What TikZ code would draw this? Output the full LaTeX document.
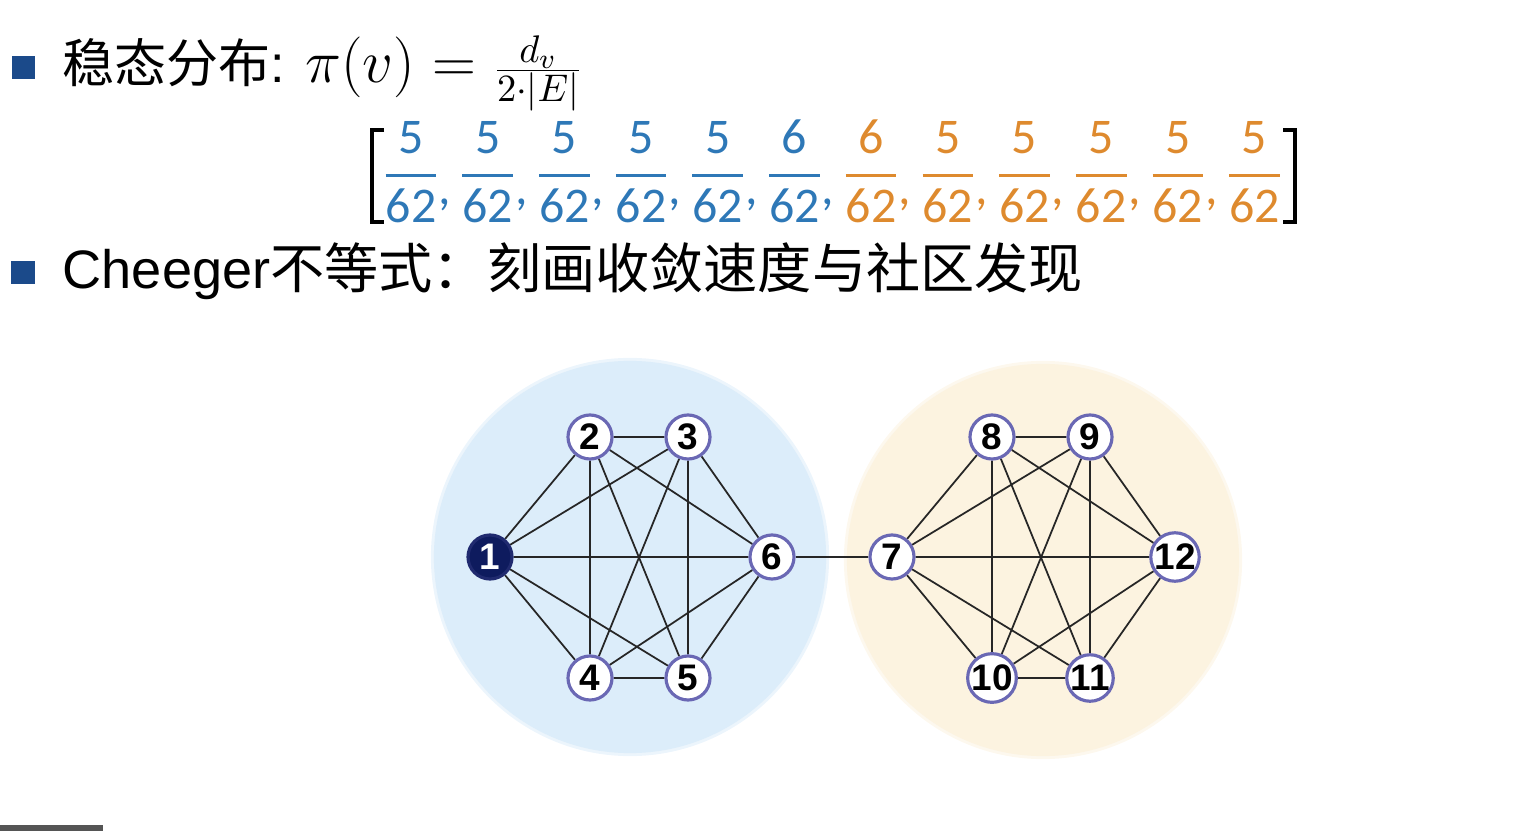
\documentclass[tikz,border=0pt]{standalone}
\usepackage[no-math]{fontspec}
\setmainfont{Liberation Sans}
\newfontfamily\cjk{Noto Sans CJK SC}
\newfontfamily\carl{Carlito}
\usetikzlibrary{backgrounds}
\definecolor{bulletBlue}{HTML}{1B4A8A}
\definecolor{fracBlue}{HTML}{2E78B7}
\definecolor{fracOrange}{HTML}{DE8A2E}
\definecolor{blobBlue}{HTML}{DCEDFA}
\definecolor{blobYellow}{HTML}{FCF3E0}
\definecolor{ringPurple}{HTML}{6A68B4}
\definecolor{hubNavy}{HTML}{0E1B5E}
\definecolor{linkGrey}{HTML}{262626}
\definecolor{barGrey}{HTML}{555555}
\tikzset{
    bulletsq/.style={rectangle, fill=bulletBlue, minimum size=0.23cm, inner sep=0pt},
    vertex/.style={circle, draw=ringPurple, line width=0.9pt, fill=white, minimum size=0.44cm, inner sep=0pt, font=\fontsize{10.5}{12}\selectfont\bfseries},
    hub/.style={vertex, fill=hubNavy, draw=hubNavy!80!ringPurple, text=white},
    link/.style={draw=linkGrey, line width=0.5pt},
    blob/.style={circle, inner sep=0pt, minimum size=3.92cm},
    halo/.style={circle, inner sep=0pt, minimum size=3.98cm},
    vecbracket/.style={draw=black, line width=1.1pt}
}
% one entry of the stationary vector
\newcommand\statfrac[2]{{\color{#1}{\hbox{\carl #2}\above 0.8pt\hbox{\carl 62}}}}
\newcommand\vcomma[1]{\kern0.02cm\lower0.16cm\hbox{\color{#1}\carl ,}\kern0.116cm}
\begin{document}
\begin{tikzpicture}[x=0.01cm, y=-0.01cm]
    \useasboundingbox (0,0) rectangle (1531,831);

    % Stationary distribution
    \node[bulletsq] at (23.5,67.5) (bul1) {};
    \node[anchor=base west, inner sep=0pt, font=\fontsize{14.8}{18}\selectfont] at (62,83) (stat) {{\cjk 稳态分布}:\hskip0.2cm{\fontsize{16.5}{20}\selectfont$\pi(v)=\hbox{\fontsize{15.2}{18}\selectfont$\frac{d_v}{2\cdot|E|}$}$}};
    \node[anchor=base west, inner sep=0pt, font=\fontsize{14.2}{17}\selectfont] at (385,188) (vec) {\nulldelimiterspace=0pt$\displaystyle
        \statfrac{fracBlue}{5}\vcomma{fracBlue}\statfrac{fracBlue}{5}\vcomma{fracBlue}\statfrac{fracBlue}{5}\vcomma{fracBlue}
        \statfrac{fracBlue}{5}\vcomma{fracBlue}\statfrac{fracBlue}{5}\vcomma{fracBlue}\statfrac{fracBlue}{6}\vcomma{fracBlue}
        \statfrac{fracOrange}{6}\vcomma{fracOrange}\statfrac{fracOrange}{5}\vcomma{fracOrange}\statfrac{fracOrange}{5}\vcomma{fracOrange}
        \statfrac{fracOrange}{5}\vcomma{fracOrange}\statfrac{fracOrange}{5}\vcomma{fracOrange}\statfrac{fracOrange}{5}$};
    \draw[vecbracket] (384,130) -- (372,130) -- (372,222) -- (384,222);
    \draw[vecbracket] (1283,130) -- (1295,130) -- (1295,222) -- (1283,222);

    % Cheeger inequality
    \node[bulletsq] at (23,272.5) (bul2) {};
    \node[anchor=base west, inner sep=0pt, font=\fontsize{15.4}{18}\selectfont] at (62,289) (cheeger) {Cheeger{\cjk 不等式：刻画收敛速度与社区发现}};

    % Left community
    \node[hub] at (490,557) (v1) {1};
    \node[vertex] at (590,437) (v2) {2};
    \node[vertex] at (688,437) (v3) {3};
    \node[vertex] at (590,678) (v4) {4};
    \node[vertex] at (688,678) (v5) {5};
    \node[vertex] at (772,557) (v6) {6};

    % Right community
    \node[vertex] at (892,557) (v7) {7};
    \node[vertex] at (992,437) (v8) {8};
    \node[vertex] at (1090,437) (v9) {9};
    \node[vertex] at (992,678) (v10) {10};
    \node[vertex] at (1090,678) (v11) {11};
    \node[vertex] at (1175,557) (v12) {12};

    \begin{scope}[on background layer]
        \node[halo, fill=blobBlue!55] at (630,557) (haloL) {};
        \node[halo, fill=blobYellow!55] at (1043,560) (haloR) {};
        \node[blob, fill=blobBlue] at (630,557) (commL) {};
        \node[blob, fill=blobYellow] at (1043,560) (commR) {};
        % K6 on the left
        \draw[link] (v1) -- (v2) (v1) -- (v3) (v1) -- (v4) (v1) -- (v5) (v1) -- (v6);
        \draw[link] (v2) -- (v3) (v2) -- (v4) (v2) -- (v5) (v2) -- (v6);
        \draw[link] (v3) -- (v4) (v3) -- (v5) (v3) -- (v6);
        \draw[link] (v4) -- (v5) (v4) -- (v6) (v5) -- (v6);
        % bridge
        \draw[link] (v6) -- (v7);
        % K6 on the right
        \draw[link] (v7) -- (v8) (v7) -- (v9) (v7) -- (v10) (v7) -- (v11) (v7) -- (v12);
        \draw[link] (v8) -- (v9) (v8) -- (v10) (v8) -- (v11) (v8) -- (v12);
        \draw[link] (v9) -- (v10) (v9) -- (v11) (v9) -- (v12);
        \draw[link] (v10) -- (v11) (v10) -- (v12) (v11) -- (v12);
    \end{scope}

    \fill[barGrey] (0,825) rectangle (103,831);
\end{tikzpicture}
\end{document}
